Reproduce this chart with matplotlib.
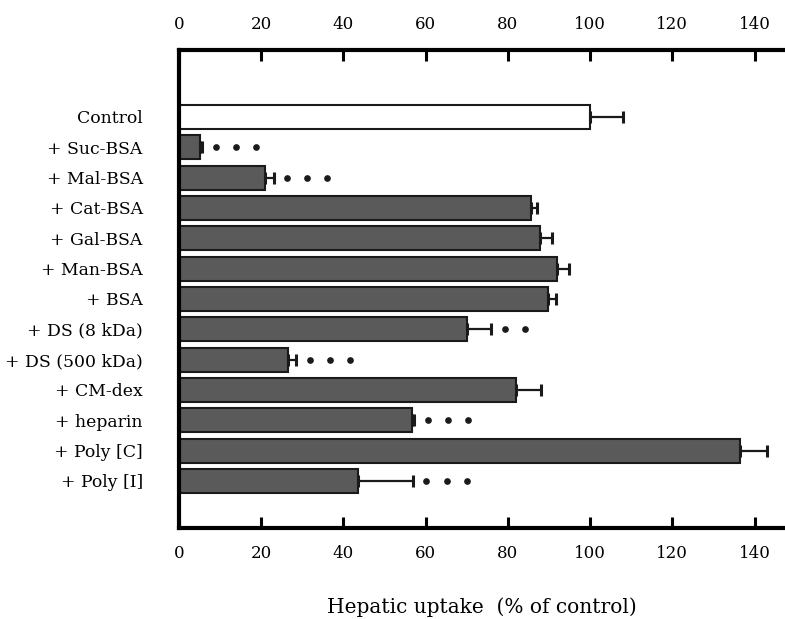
import matplotlib.pyplot as plt
import numpy as np

plt.rcParams['font.family'] = ['DejaVu Serif']

labels = ['Control', '+ Suc-BSA', '+ Mal-BSA', '+ Cat-BSA', '+ Gal-BSA', '+ Man-BSA',
          '+ BSA', '+ DS (8 kDa)', '+ DS (500 kDa)', '+ CM-dex', '+ heparin',
          '+ Poly [C]', '+ Poly [I]']
uptake = [100, 5, 21, 85.5, 87.7, 92, 89.8, 70, 26.5, 82, 56.6, 136.5, 43.6]
sem = [8, 0.7, 2, 1.5, 3, 2.8, 2, 6, 2, 6, 0.6, 6.5, 13.3]
stars = [0, 3, 3, 0, 0, 0, 0, 2, 3, 0, 3, 0, 3]

fig = plt.figure(figsize=(7.85, 6.19), dpi=100)
ax = fig.add_axes([0.228, 0.147, 0.772, 0.772])

pos = np.arange(len(labels))
colors = ['white'] + ['#5a5a5a'] * (len(labels) - 1)
ax.barh(pos, uptake, height=0.79, color=colors, edgecolor='#1a1a1a', linewidth=1.5)
ax.errorbar(uptake, pos, xerr=[np.zeros(len(sem)), sem], fmt='none',
            ecolor='#1a1a1a', elinewidth=1.6, capsize=4, capthick=2.2)

# significance dots
for p, v, e, n in zip(pos, uptake, sem, stars):
    if n:
        xs = v + e + 3.3 + 4.9 * np.arange(n)
        ax.plot(xs, [p] * n, 'o', color='#1a1a1a', ms=3.8)

ax.set_xlim(0, 147.4)
ax.set_ylim(13.55, -2.2)
ax.set_yticks(pos)
ax.set_yticklabels(labels, fontsize=12.4)
ax.tick_params(axis='y', length=0, pad=26)
ax.set_xticks(np.arange(0, 141, 20))
ax.tick_params(axis='x', direction='in', length=8, width=2.2, top=True,
               labeltop=True, labelsize=12, pad=12)
ax.spines['right'].set_visible(False)
for s in ['top', 'bottom', 'left']:
    ax.spines[s].set_linewidth(3)
ax.set_xlabel('Hepatic uptake  (% of control)', fontsize=14.5, labelpad=26)

fig.savefig('out.png', dpi=100)
